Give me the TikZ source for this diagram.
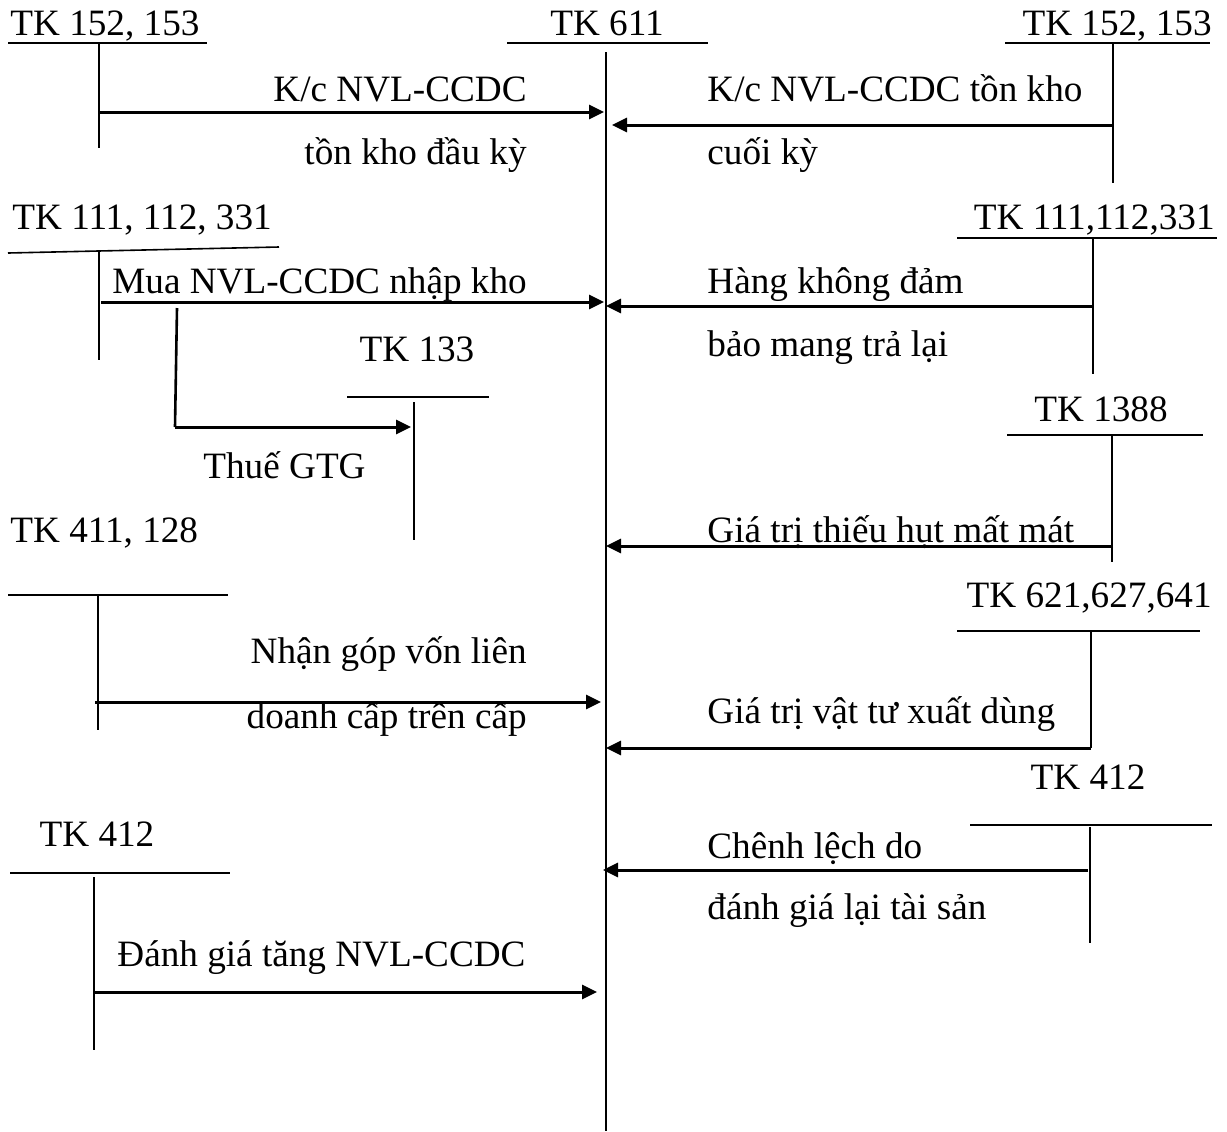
\documentclass[tikz,border=0pt]{standalone}
\usepackage{fontspec}
\setmainfont{Liberation Serif}
\usetikzlibrary{arrows.meta}
\begin{document}
\begin{tikzpicture}[x=0.5pt,y=-0.5pt,
  lbl/.style={inner sep=0pt,font=\fontsize{18.6}{22}\selectfont},
  tline/.style={line width=0.8pt},
  flow/.style={line width=1.5pt,-{Triangle[length=7.5pt,width=7pt]}}]
\useasboundingbox (0,0) rectangle (1227,1131);

% central account TK 611
\node[lbl,anchor=base] (t611) at (607,35) {TK 611};
\coordinate (h611a) at (507,43); \coordinate (h611b) at (708,43);
\draw[tline] (h611a) -- (h611b);
\coordinate (ctop) at (606,52); \coordinate (cbot) at (606,1131);
\draw[tline] (ctop) -- (cbot);

% left TK 152,153
\node[lbl,anchor=base west] (tl152) at (10,35) {TK 152, 153};
\coordinate (hl152a) at (8,43); \coordinate (hl152b) at (207,43);
\draw[tline] (hl152a) -- (hl152b);
\coordinate (vl152a) at (99,43); \coordinate (vl152b) at (99,148);
\draw[tline] (vl152a) -- (vl152b);
\coordinate (al152s) at (99,112); \coordinate (al152e) at (604,112);
\draw[flow] (al152s) -- (al152e);
\node[lbl,anchor=base east] (kc1) at (527,101) {K/c NVL-CCDC};
\node[lbl,anchor=base east] (kc2) at (527,164) {tồn kho đầu kỳ};

% right TK 152,153
\node[lbl,anchor=base east] (tr152) at (1212,35) {TK 152, 153};
\coordinate (hr152a) at (1005,43); \coordinate (hr152b) at (1210,43);
\draw[tline] (hr152a) -- (hr152b);
\coordinate (vr152a) at (1113,43); \coordinate (vr152b) at (1113,183);
\draw[tline] (vr152a) -- (vr152b);
\coordinate (ar152s) at (1113,125); \coordinate (ar152e) at (612,125);
\draw[flow] (ar152s) -- (ar152e);
\node[lbl,anchor=base west] (kc3) at (707,101) {K/c NVL-CCDC tồn kho};
\node[lbl,anchor=base west] (kc4) at (707,164) {cuối kỳ};

% left TK 111,112,331
\node[lbl,anchor=base west] (tl111) at (12,229) {TK 111, 112, 331};
\coordinate (hl111a) at (8,253); \coordinate (hl111b) at (279,247);
\draw[tline] (hl111a) -- (hl111b);
\coordinate (vl111a) at (99,251); \coordinate (vl111b) at (99,360);
\draw[tline] (vl111a) -- (vl111b);
\coordinate (al111s) at (101,302); \coordinate (al111e) at (604,302);
\draw[flow] (al111s) -- (al111e);
\node[lbl,anchor=base west] (mua) at (112,293) {Mua NVL-CCDC nhập kho};
\coordinate (br1) at (177,308); \coordinate (br2) at (175,427); \coordinate (br3) at (411,427);
\draw[line width=1.3pt] (br1) -- (br2);
\draw[flow] (br2) -- (br3);

% TK 133
\node[lbl,anchor=base] (t133) at (417,361) {TK 133};
\coordinate (h133a) at (347,397); \coordinate (h133b) at (489,397);
\draw[tline] (h133a) -- (h133b);
\coordinate (v133a) at (414,402); \coordinate (v133b) at (414,540);
\draw[tline] (v133a) -- (v133b);
\node[lbl,anchor=base west] (thue) at (203,478) {Thuế GTG};

% right TK 111,112,331
\node[lbl,anchor=base east] (tr111) at (1215,229) {TK 111,112,331};
\coordinate (hr111a) at (957,238); \coordinate (hr111b) at (1217,238);
\draw[tline] (hr111a) -- (hr111b);
\coordinate (vr111a) at (1093,238); \coordinate (vr111b) at (1093,374);
\draw[tline] (vr111a) -- (vr111b);
\coordinate (ar111s) at (1093,306); \coordinate (ar111e) at (606,306);
\draw[flow] (ar111s) -- (ar111e);
\node[lbl,anchor=base west] (hang1) at (707,293) {Hàng không đảm};
\node[lbl,anchor=base west] (hang2) at (707,356) {bảo mang trả lại};

% TK 1388
\node[lbl,anchor=base] (t1388) at (1101,421) {TK 1388};
\coordinate (h1388a) at (1007,435); \coordinate (h1388b) at (1203,435);
\draw[tline] (h1388a) -- (h1388b);
\coordinate (v1388a) at (1112,435); \coordinate (v1388b) at (1112,562);
\draw[tline] (v1388a) -- (v1388b);
\coordinate (a1388s) at (1113,546); \coordinate (a1388e) at (606,546);
\draw[flow] (a1388s) -- (a1388e);
\node[lbl,anchor=base west] (giatri1) at (707,542) {Giá trị thiếu hụt mất mát};

% TK 411,128
\node[lbl,anchor=base west] (t411) at (10,542) {TK 411, 128};
\coordinate (h411a) at (8,595); \coordinate (h411b) at (228,595);
\draw[tline] (h411a) -- (h411b);
\coordinate (v411a) at (98,595); \coordinate (v411b) at (98,730);
\draw[tline] (v411a) -- (v411b);
\coordinate (a411s) at (95,702); \coordinate (a411e) at (601,702);
\draw[flow] (a411s) -- (a411e);
\node[lbl,anchor=base east] (nhan1) at (527,663) {Nhận góp vốn liên};
\node[lbl,anchor=base east] (nhan2) at (527,728) {doanh cấp trên cấp};

% TK 621,627,641
\node[lbl,anchor=base east] (t621) at (1212,607) {TK 621,627,641};
\coordinate (h621a) at (957,631); \coordinate (h621b) at (1200,631);
\draw[tline] (h621a) -- (h621b);
\coordinate (v621a) at (1091,631); \coordinate (v621b) at (1091,748);
\draw[tline] (v621a) -- (v621b);
\coordinate (a621s) at (1091,748); \coordinate (a621e) at (606,748);
\draw[flow] (a621s) -- (a621e);
\node[lbl,anchor=base west] (giatri2) at (707,723) {Giá trị vật tư xuất dùng};

% right TK 412
\node[lbl,anchor=base] (tr412) at (1088,789) {TK 412};
\coordinate (hr412a) at (970,825); \coordinate (hr412b) at (1212,825);
\draw[tline] (hr412a) -- (hr412b);
\coordinate (vr412a) at (1090,827); \coordinate (vr412b) at (1090,943);
\draw[tline] (vr412a) -- (vr412b);
\coordinate (ar412s) at (1088,870); \coordinate (ar412e) at (603,870);
\draw[flow] (ar412s) -- (ar412e);
\node[lbl,anchor=base west] (chenh1) at (707,858) {Chênh lệch do};
\node[lbl,anchor=base west] (chenh2) at (707,919) {đánh giá lại tài sản};

% left TK 412
\node[lbl,anchor=base] (tl412) at (97,846) {TK 412};
\coordinate (hl412a) at (10,873); \coordinate (hl412b) at (230,873);
\draw[tline] (hl412a) -- (hl412b);
\coordinate (vl412a) at (94,877); \coordinate (vl412b) at (94,1050);
\draw[tline] (vl412a) -- (vl412b);
\coordinate (al412s) at (94,992); \coordinate (al412e) at (597,992);
\draw[flow] (al412s) -- (al412e);
\node[lbl,anchor=base west] (danh) at (117,966) {Đánh giá tăng NVL-CCDC};
\end{tikzpicture}
\end{document}
